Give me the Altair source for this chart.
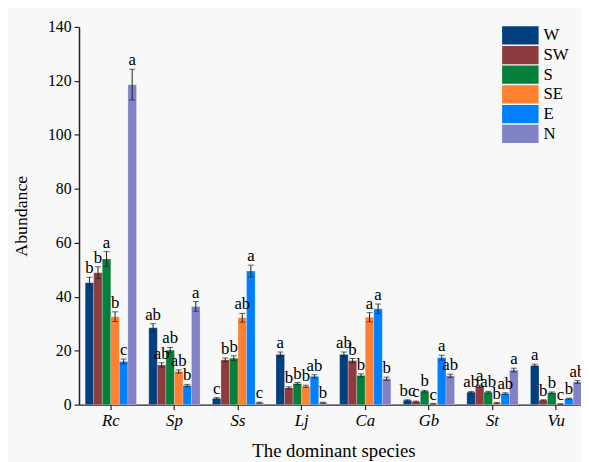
import altair as alt
import pandas as pd

species = ["Rc", "Sp", "Ss", "Lj", "Ca", "Gb", "St", "Vu"]
directions = ["W", "SW", "S", "SE", "E", "N"]
colors = ["#023f7f", "#8e3b3f", "#067f3a", "#fe8030", "#0080ff", "#8181c6"]

W = [45.2, 28.5, 2.3, 18.6, 18.6, 1.6, 4.6, 14.5]
SW = [48.9, 14.7, 16.6, 6.2, 16.3, 1.1, 6.8, 1.6]
S = [54.0, 20.2, 17.2, 7.8, 10.8, 5.0, 4.6, 4.4]
SE = [32.6, 12.3, 32.2, 6.8, 32.4, 0.3, 0.6, 0.2]
E = [16.0, 7.1, 49.5, 10.5, 35.5, 17.4, 4.1, 2.2]
N = [118.6, 36.4, 0.7, 0.7, 9.6, 10.7, 12.8, 8.4]

W_err = [2.0, 1.5, 0.3, 0.9, 0.9, 0.2, 0.3, 0.5]
SW_err = [2.2, 0.8, 0.7, 0.4, 0.8, 0.2, 0.4, 0.2]
S_err = [2.7, 1.0, 0.9, 0.4, 0.6, 0.3, 0.3, 0.3]
SE_err = [1.8, 0.6, 1.6, 0.4, 1.7, 0.1, 0.2, 0.1]
E_err = [0.9, 0.4, 2.2, 0.6, 1.8, 0.9, 0.3, 0.2]
N_err = [5.7, 1.8, 0.2, 0.2, 0.6, 0.6, 0.7, 0.5]

W_let = ["b", "ab", "c", "a", "ab", "bc", "ab", "a"]
SW_let = ["b", "ab", "b", "b", "b", "c", "a", "b"]
S_let = ["a", "ab", "b", "b", "b", "b", "ab", "b"]
SE_let = ["b", "ab", "ab", "b", "a", "c", "b", "c"]
E_let = ["c", "b", "a", "ab", "a", "a", "ab", "b"]
N_let = ["a", "a", "c", "b", "b", "ab", "a", "ab"]

vals = [W, SW, S, SE, E, N]
errs = [W_err, SW_err, S_err, SE_err, E_err, N_err]
lets = [W_let, SW_let, S_let, SE_let, E_let, N_let]

rows = []
for d, v, e, l in zip(directions, vals, errs, lets):
    for i, sp in enumerate(species):
        rows.append({"species": sp, "dir": d, "value": v[i],
                     "lo": v[i] - e[i], "hi": v[i] + e[i], "letter": l[i]})
df = pd.DataFrame(rows)

FONT = "Liberation Serif"

xenc = alt.X("species:N", sort=species,
             scale=alt.Scale(domain=species, range=[0, 516],
                             paddingInner=0.194, paddingOuter=0.097),
             axis=alt.Axis(title="The dominant species", labelAngle=0,
                           labelFontStyle="italic", labelFontSize=17,
                           labelFont=FONT, titleFont=FONT, titleFontSize=19,
                           titleFontWeight="normal", titleColor="black",
                           labelColor="black", domainColor="#222",
                           domainWidth=1.5, tickColor="#222", tickSize=5,
                           tickWidth=1.2, labelPadding=3, titlePadding=14))
xoff = alt.XOffset("dir:N", sort=directions,
                   scale=alt.Scale(domain=directions, paddingInner=0, paddingOuter=0))
yscale = alt.Scale(domain=[0, 140], nice=False)

base = alt.Chart(df)

bars = base.mark_bar(stroke="white", strokeWidth=0.4, strokeOpacity=0.6).encode(
    x=xenc,
    xOffset=xoff,
    y=alt.Y("value:Q", scale=yscale,
            axis=alt.Axis(title="Abundance", values=[0, 20, 40, 60, 80, 100, 120, 140],
                          grid=False, labelFont=FONT, labelFontSize=16,
                          titleFont=FONT, titleFontSize=18, titleFontWeight="normal",
                          titleColor="black", labelColor="black", domainColor="#222",
                          domainWidth=1.5, tickColor="#222", tickSize=5, tickWidth=1.2,
                          labelPadding=3, titlePadding=17)),
    color=alt.Color("dir:N", sort=directions,
                    scale=alt.Scale(domain=directions, range=colors),
                    legend=alt.Legend(title=None, orient="none", legendX=438, legendY=-1,
                                      symbolType="M-2,-1H2V1H-2Z", symbolSize=342,
                                      symbolOpacity=1, symbolStrokeWidth=0,
                                      labelFont=FONT, labelFontSize=17, labelColor="black",
                                      labelOffset=14, rowPadding=1)),
)

rule = base.mark_rule(color="#222", strokeWidth=1).encode(
    x=xenc, xOffset=xoff, y="lo:Q", y2="hi:Q")
cap_hi = base.mark_tick(color="#222", size=6, thickness=1).encode(
    x=xenc, xOffset=xoff, y=alt.Y("hi:Q", scale=yscale))
cap_lo = base.mark_tick(color="#222", size=6, thickness=1).encode(
    x=xenc, xOffset=xoff, y=alt.Y("lo:Q", scale=yscale))
labels = base.mark_text(font=FONT, fontSize=17, color="black", baseline="alphabetic",
                        dy=-4).encode(
    x=xenc, xOffset=xoff, y=alt.Y("hi:Q", scale=yscale), text="letter:N")

chart = alt.layer(bars, rule, cap_hi, cap_lo, labels).properties(
    width=509, height=383,
    autosize=alt.AutoSizeParams(type="none"),
    padding={"left": 72, "top": 16, "right": 0, "bottom": 55},
    background="#f8f8f8",
).configure_view(stroke=None)

chart.save("out.html", embed_options={"renderer": "svg", "actions": False})
